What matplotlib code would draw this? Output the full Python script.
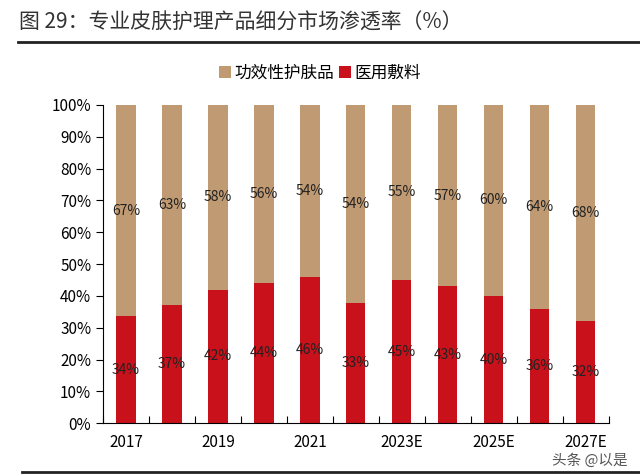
import numpy as np
import matplotlib.pyplot as plt

plt.rcParams['font.family'] = ['Noto Sans CJK SC', 'DejaVu Sans']

# data (raw shares as labelled; chart stacks them to 100%)
years = ["2017", "2018", "2019", "2020", "2021", "2022",
         "2023E", "2024E", "2025E", "2026E", "2027E"]
functional = [67, 63, 58, 56, 54, 54, 55, 57, 60, 64, 68]   # 功效性护肤品
dressing = [34, 37, 42, 44, 46, 33, 45, 43, 40, 36, 32]     # 医用敷料

TAN = "#C09A72"
RED = "#C8111B"

fig = plt.figure(figsize=(6.4, 4.75), dpi=100)
ax = fig.add_axes([0.161, 0.109, 0.79, 0.670])

x = np.arange(len(years))
f = np.array(functional, dtype=float)
d = np.array(dressing, dtype=float)
tot = f + d
d_pct = d / tot * 100
f_pct = f / tot * 100

w = 0.42
ax.bar(x, d_pct, width=w, color=RED, label="医用敷料", zorder=2)
ax.bar(x, f_pct, width=w, bottom=d_pct, color=TAN, label="功效性护肤品", zorder=2)

for i in range(len(x)):
    ax.text(x[i], d_pct[i] / 2, f"{dressing[i]}%", ha="center", va="center",
            fontsize=10, color="#222222", zorder=3)
    ax.text(x[i], d_pct[i] + f_pct[i] / 2, f"{functional[i]}%", ha="center",
            va="center", fontsize=10, color="#222222", zorder=3)

ax.set_xlim(-0.5, len(years) - 0.5)
ax.set_ylim(0, 100)
ax.set_yticks(np.arange(0, 101, 10))
ax.set_yticklabels([f"{v}%" for v in range(0, 101, 10)], fontsize=11)

# category boundary ticks, labels every other year
ax.set_xticks(np.arange(-0.5, len(years), 1))
ax.set_xticklabels([])
ax.set_xticks(x[::2], minor=True)
ax.set_xticklabels(years[::2], minor=True, fontsize=11)
ax.tick_params(axis="x", which="major", direction="in", length=5)
ax.tick_params(axis="x", which="minor", length=0, pad=8)
ax.tick_params(axis="y", direction="out", length=5)

for s in ["top", "right"]:
    ax.spines[s].set_visible(False)

handles, labels = ax.get_legend_handles_labels()
fig.legend(handles[::-1], labels[::-1], loc="center", bbox_to_anchor=(0.5, 0.846),
           ncol=2, frameon=False, fontsize=12, handlelength=0.7, handleheight=0.7,
           handletextpad=0.2, columnspacing=0.3)

fig.text(0.03, 0.953, "图 29：专业皮肤护理产品细分市场渗透率（%）", fontsize=15,
         color="#333333", va="center", ha="left")
fig.add_artist(plt.Line2D([0.028, 1.0], [0.912, 0.912], color="#222222", lw=2))
fig.add_artist(plt.Line2D([0.034, 1.0], [0.006, 0.006], color="#222222", lw=2))

fig.text(0.98, 0.03, "头条 @以是", fontsize=10.5, color="#555555", ha="right", va="center")

fig.savefig("out.png", dpi=100)
